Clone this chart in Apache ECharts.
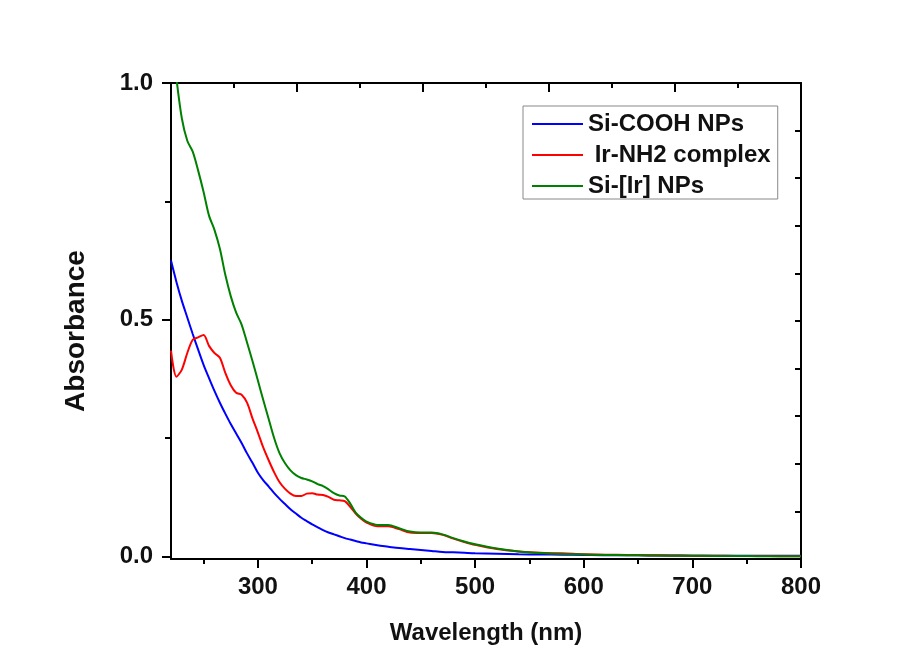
<!DOCTYPE html>
<html>
<head>
<meta charset="utf-8">
<script src="https://cdn.jsdelivr.net/npm/echarts@6/dist/echarts.min.js"></script>
<style>
  html, body { margin: 0; padding: 0; background: #fff; }
  #chart { width: 915px; height: 659px; }
</style>
</head>
<body>
<div id="chart"></div>
<script>
// wavelength (nm), shared by all three spectra
var wavelength = [220,225,230,235,240,245,250,255,260,265,270,275,280,285,290,295,300,305,310,315,320,325,330,335,340,345,350,355,360,365,370,375,380,385,390,395,400,410,420,430,440,450,460,470,480,490,500,520,540,560,580,600,620,640,660,680,700,720,740,760,780,800];

var siCooh = [0.625,0.580,0.540,0.505,0.470,0.437,0.405,0.377,0.350,0.325,0.302,0.280,0.260,0.240,0.218,0.198,0.177,0.161,0.148,0.134,0.122,0.111,0.100,0.091,0.082,0.075,0.068,0.062,0.056,0.051,0.047,0.043,0.039,0.036,0.033,0.030,0.028,0.024,0.021,0.018,0.016,0.014,0.012,0.010,0.009,0.008,0.007,0.006,0.005,0.0045,0.004,0.0035,0.003,0.003,0.0025,0.0025,0.002,0.002,0.002,0.002,0.002,0.002];

var irNh2 = [0.435,0.380,0.395,0.430,0.458,0.463,0.468,0.445,0.430,0.420,0.388,0.362,0.346,0.342,0.325,0.292,0.262,0.230,0.203,0.178,0.157,0.143,0.133,0.128,0.128,0.133,0.134,0.131,0.130,0.126,0.120,0.119,0.117,0.105,0.091,0.080,0.072,0.064,0.064,0.058,0.051,0.050,0.050,0.046,0.038,0.031,0.025,0.016,0.011,0.008,0.007,0.005,0.004,0.0035,0.003,0.0025,0.002,0.002,0.0015,0.0015,0.001,0.001];

var siIr = [1.12,1.01,0.925,0.878,0.855,0.815,0.770,0.720,0.690,0.650,0.595,0.550,0.515,0.490,0.452,0.413,0.372,0.330,0.290,0.250,0.218,0.197,0.182,0.172,0.166,0.163,0.159,0.153,0.149,0.142,0.134,0.129,0.127,0.112,0.093,0.082,0.074,0.067,0.067,0.060,0.053,0.051,0.051,0.047,0.039,0.032,0.026,0.017,0.011,0.0075,0.0055,0.0045,0.0035,0.003,0.0025,0.002,0.002,0.0015,0.0015,0.001,0.001,0.001];

var seriesNames = ['Si-COOH NPs', ' Ir-NH2 complex', 'Si-[Ir] NPs'];
var seriesColors = ['#0000ff', '#ff0000', '#008000'];

var xMajor = [300, 400, 500, 600, 700, 800];
var xMinor = [250, 350, 450, 550, 650, 750];
var yMajor = [0, 0.5, 1.0];
var yMinor = [0.25, 0.75];

function pairs(ys) {
  return wavelength.map(function (w, i) { return [w, ys[i]]; });
}

var chart = echarts.init(document.getElementById('chart'), null, { renderer: 'canvas' });

var font = 'Liberation Sans';
var lineStyle = { color: '#000', width: 2 };
var labelStyle = { fontSize: 24, fontWeight: 'bold', color: '#111', fontFamily: font };

var option = {
  backgroundColor: '#fff',
  animation: false,
  textStyle: { fontFamily: font },
  grid: { left: 171, right: 114, top: 83, bottom: 100 },
  legend: {
    orient: 'vertical',
    left: 523,
    top: 106,
    padding: [6, 7, 1, 9],
    borderColor: '#888',
    borderWidth: 1,
    itemWidth: 51,
    itemHeight: 2,
    itemGap: 7,
    icon: 'rect',
    textStyle: { fontFamily: font, fontSize: 24, fontWeight: 'bold', color: '#111', lineHeight: 22 },
    data: seriesNames
  },
  xAxis: [
    {
      type: 'value', position: 'bottom', min: 220, max: 800,
      axisLine: { show: true, onZero: false, lineStyle: lineStyle },
      axisTick: { show: true, customValues: xMajor, length: 9, lineStyle: lineStyle },
      axisLabel: Object.assign({ customValues: xMajor, margin: 16 }, labelStyle),
      splitLine: { show: false },
      name: 'Wavelength (nm)', nameLocation: 'middle', nameGap: 62,
      nameTextStyle: labelStyle
    },
    {
      type: 'value', position: 'bottom', min: 220, max: 800,
      axisLine: { show: false, onZero: false },
      axisTick: { show: true, customValues: xMinor, length: 5, lineStyle: lineStyle },
      axisLabel: { show: false },
      splitLine: { show: false }
    },
    {
      type: 'value', position: 'top', min: 0, max: 5, interval: 1,
      axisLine: { show: true, onZero: false, lineStyle: lineStyle },
      axisTick: { show: true, inside: true, length: 9, lineStyle: lineStyle },
      minorTick: { show: true, splitNumber: 2, length: 5, lineStyle: lineStyle },
      axisLabel: { show: false },
      splitLine: { show: false }
    }
  ],
  yAxis: [
    {
      type: 'value', position: 'left', min: -0.005, max: 1,
      axisLine: { show: true, onZero: false, lineStyle: lineStyle },
      axisTick: { show: true, customValues: yMajor, length: 9, lineStyle: lineStyle },
      axisLabel: Object.assign({
        customValues: yMajor, margin: 18,
        formatter: function (v) { return v.toFixed(1); }
      }, labelStyle),
      splitLine: { show: false },
      name: 'Absorbance', nameLocation: 'middle', nameGap: 81,
      // right padding pushes the rotated title a little lower, as in the source
      nameTextStyle: { fontSize: 28, fontWeight: 'bold', color: '#111', fontFamily: font, padding: [0, 20, 0, 0] }
    },
    {
      type: 'value', position: 'left', min: -0.005, max: 1,
      axisLine: { show: false, onZero: false },
      axisTick: { show: true, customValues: yMinor, length: 6, lineStyle: lineStyle },
      axisLabel: { show: false },
      splitLine: { show: false }
    },
    {
      type: 'value', position: 'right', min: 0, max: 10, interval: 1,
      axisLine: { show: true, onZero: false, lineStyle: lineStyle },
      axisTick: { show: true, inside: true, length: 6, lineStyle: lineStyle },
      axisLabel: { show: false },
      splitLine: { show: false }
    }
  ],
  series: [
    { name: seriesNames[0], type: 'line', data: pairs(siCooh), smooth: 0.3, showSymbol: false, clip: true,
      color: seriesColors[0], lineStyle: { width: 2, color: seriesColors[0] } },
    { name: seriesNames[1], type: 'line', data: pairs(irNh2), smooth: 0.3, showSymbol: false, clip: true,
      color: seriesColors[1], lineStyle: { width: 2, color: seriesColors[1] } },
    { name: seriesNames[2], type: 'line', data: pairs(siIr), smooth: 0.3, showSymbol: false, clip: true,
      color: seriesColors[2], lineStyle: { width: 2, color: seriesColors[2] } }
  ]
};

chart.setOption(option);
</script>
</body>
</html>
